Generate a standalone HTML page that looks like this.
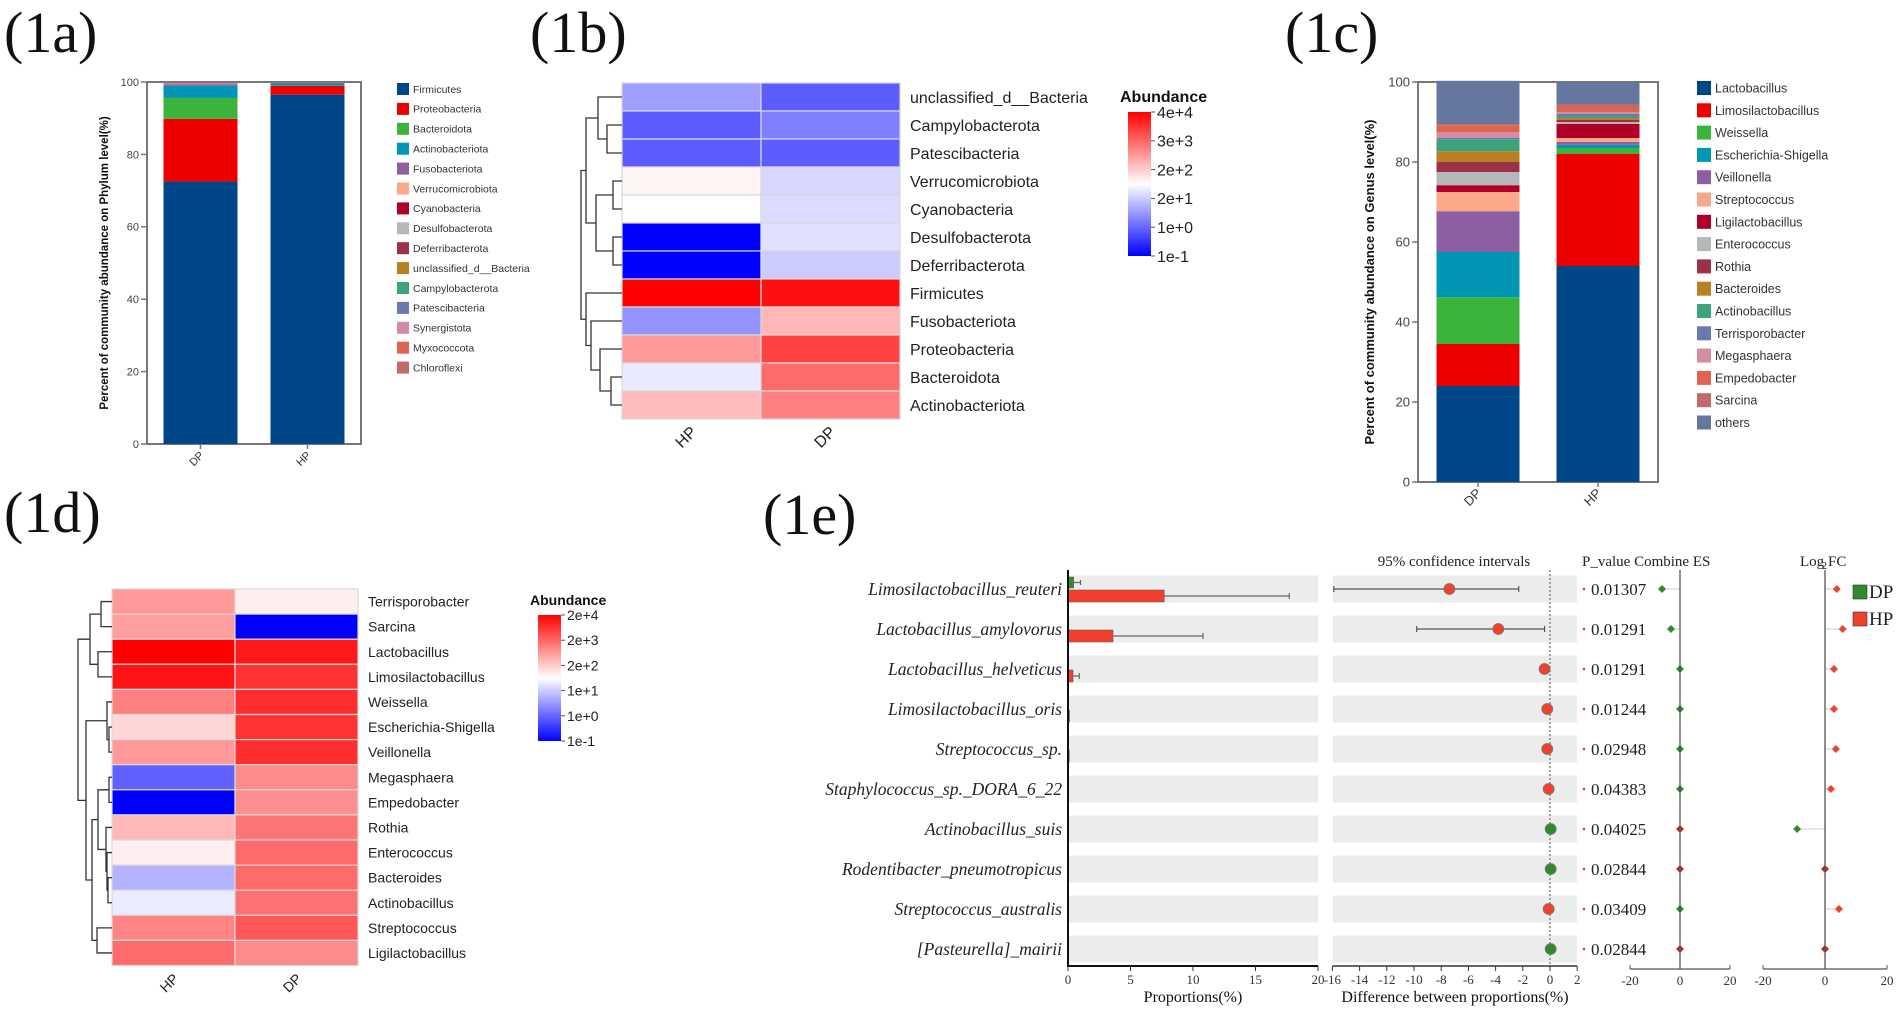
<!DOCTYPE html>
<html><head><meta charset="utf-8">
<style>
html,body{margin:0;padding:0;background:#fff;}
svg{display:block;}
.sans{font-family:"Liberation Sans",Arial,sans-serif;}
.serif{font-family:"Liberation Serif","Times New Roman",serif;}
</style></head>
<body>
<svg id="fig" width="1901" height="1012" viewBox="0 0 1901 1012" xmlns="http://www.w3.org/2000/svg">
<rect x="0" y="0" width="1901" height="1012" fill="#fff"/>
<text class="serif" x="4" y="52" font-size="58" fill="#111">(1a)</text>
<text class="serif" x="530" y="52" font-size="58" fill="#111">(1b)</text>
<text class="serif" x="1285" y="52" font-size="58" fill="#111">(1c)</text>
<text class="serif" x="4" y="532" font-size="58" fill="#111">(1d)</text>
<text class="serif" x="763" y="534" font-size="58" fill="#111">(1e)</text>
</svg>
<script>
// ---------- DATA ----------
const groups = ["DP","HP"];
const phylaNames = ["Firmicutes","Proteobacteria","Bacteroidota","Actinobacteriota","Fusobacteriota","Verrucomicrobiota","Cyanobacteria","Desulfobacterota","Deferribacterota","unclassified_d__Bacteria","Campylobacterota","Patescibacteria","Synergistota","Myxococcota","Chloroflexi"];
const phylaColors = ["#00478a","#ee0000","#3cb43c","#0096b4","#8e5ea2","#f9a98a","#b0002a","#b4b8b8","#9c3048","#b88020","#3aa37a","#6a7ab0","#d48ca0","#dc6450","#c06a6a"];
const dpPhylum = [72.5,17.3,5.8,3.4,0.4,0.1,0.1,0.1,0.05,0.05,0.05,0.05,0.05,0.03,0.02];
const hpPhylum = [96.5,2.4,0.1,0.6,0.2,0.05,0.05,0.02,0.02,0.02,0.01,0.01,0.01,0.01,0.01];

const genusNames = ["Lactobacillus","Limosilactobacillus","Weissella","Escherichia-Shigella","Veillonella","Streptococcus","Ligilactobacillus","Enterococcus","Rothia","Bacteroides","Actinobacillus","Terrisporobacter","Megasphaera","Empedobacter","Sarcina","others"];
const genusColors = ["#00478a","#ee0000","#3cb43c","#0096b4","#8e5ea2","#f9a98a","#b0002a","#b4b8b8","#9c3048","#b88020","#3aa37a","#6a7ab0","#d48ca0","#dc6450","#c06a6a","#66779f"];
const dpGenus = [24,10.5,11.7,11.3,10.2,4.8,1.7,3.3,2.5,2.7,3,0.3,1.5,1.7,0.3,10.8];
const hpGenus = [54,28,1.5,0.8,0.7,1,3.5,0.5,0.5,0.5,0.5,0.5,0.5,1,1,5.5];

const phylumRows = ["unclassified_d__Bacteria","Campylobacterota","Patescibacteria","Verrucomicrobiota","Cyanobacteria","Desulfobacterota","Deferribacterota","Firmicutes","Fusobacteriota","Proteobacteria","Bacteroidota","Actinobacteriota"];
const phylumHeatCols = ["HP","DP"];
const phylumLogHP = [0.72,-0.1,-0.1,1.9,1.8,-1,-1,4.6,0.58,2.89,1.6,2.48];
const phylumLogDP = [-0.1,0.33,-0.1,1.4,1.45,1.5,1.3,4.43,2.54,3.87,3.42,3.18];
const phylumTickLabels = ["1e-1","1e+0","2e+1","2e+2","3e+3","4e+4"];
const phylumTickLogs = [-1,0,1.301,2.301,3.477,4.602];

const genusRows = ["Terrisporobacter","Sarcina","Lactobacillus","Limosilactobacillus","Weissella","Escherichia-Shigella","Veillonella","Megasphaera","Empedobacter","Rothia","Enterococcus","Bacteroides","Actinobacillus","Streptococcus","Ligilactobacillus"];
const genusLogHP = [2.8,2.75,4.3,4.1,3.05,2.17,2.8,-0.05,-1,2.5,1.85,0.75,1.39,3.0,3.25];
const genusLogDP = [1.85,-1,4.05,3.8,3.85,3.8,3.85,2.95,2.9,3.15,3.25,3.25,3.2,3.45,2.95];
const genusTickLabels = ["1e-1","1e+0","1e+1","2e+2","2e+3","2e+4"];
const genusTickLogs = [-1,0,1,2.301,3.301,4.301];

const species = ["Limosilactobacillus_reuteri","Lactobacillus_amylovorus","Lactobacillus_helveticus","Limosilactobacillus_oris","Streptococcus_sp.","Staphylococcus_sp._DORA_6_22","Actinobacillus_suis","Rodentibacter_pneumotropicus","Streptococcus_australis","[Pasteurella]_mairii"];
const dpProp = [0.45,0.05,0.05,0.03,0.03,0.01,0.04,0.04,0.02,0.04];
const dpPropErr = [1.0,0.1,0.1,0.05,0.05,0.02,0.08,0.08,0.04,0.08];
const hpProp = [7.7,3.6,0.4,0.12,0.1,0.02,0.01,0.01,0.05,0.01];
const hpPropErr = [17.7,10.8,0.9,0.2,0.2,0.04,0.02,0.02,0.1,0.02];
const diffVal = [-7.4,-3.8,-0.4,-0.2,-0.2,-0.1,0.05,0.05,-0.1,0.05];
const diffLo = [-15.9,-9.8,-0.6,-0.3,-0.3,-0.2,0,0,-0.2,0];
const diffHi = [-2.3,-0.4,-0.2,-0.1,-0.1,0,0.1,0.1,0,0.1];
const pValues = ["0.01307","0.01291","0.01291","0.01244","0.02948","0.04383","0.04025","0.02844","0.03409","0.02844"];
const esVal = [-7.2,-3.6,0,0,0,0,0,0,0,0];
const esGroup = ["DP","DP","DP","DP","DP","DP","HP","HP","DP","HP"];
const log2fc = [3.8,5.7,2.9,2.9,3.5,1.9,-9,0,4.5,0];
const propTicks = [0,5,10,15,20];
const diffTicks = [-16,-14,-12,-10,-8,-6,-4,-2,0,2];
const esTicks = [-20,0,20];

// ---------- HELPERS ----------
const NS = "http://www.w3.org/2000/svg";
const svg = document.getElementById("fig");
function mk(tag, attrs, parent, txt){
  const el = document.createElementNS(NS, tag);
  for (const k in attrs) el.setAttribute(k, attrs[k]);
  if (txt !== undefined) el.textContent = txt;
  (parent || svg).appendChild(el);
  return el;
}
function grp(name){
  const g = mk("g", {});
  
  
  return g;
}
function heatColor(logv, tickLogs){
  let f;
  if (logv <= tickLogs[0]) f = 0;
  else if (logv >= tickLogs[tickLogs.length-1]) f = 1;
  else {
    for (let i=0;i<tickLogs.length-1;i++){
      if (logv>=tickLogs[i] && logv<=tickLogs[i+1]){
        f = (i + (logv-tickLogs[i])/(tickLogs[i+1]-tickLogs[i]))/(tickLogs.length-1); break;
      }
    }
  }
  let r,g,b;
  if (f < 0.5){ const t=f/0.5; r=Math.round(255*t); g=r; b=255; }
  else { const t=(f-0.5)/0.5; r=255; g=Math.round(255*(1-t)); b=g; }
  return "rgb("+r+","+g+","+b+")";
}

// ---------- STACKED BAR PANEL ----------
function stackedPanel(o){
  const g = grp(o.name);
  const yS = v => o.y0 - v*(o.y0-o.y100)/100;
  const band = (o.right-o.left)/groups.length;
  const fr = mk("rect",{x:o.left,y:o.y100,width:o.right-o.left,height:o.y0-o.y100,fill:"none",stroke:"#777","stroke-width":2},g);
  
  
  [o.dp,o.hp].forEach((vals,gi)=>{
    let acc=0;
    const bx = o.left + band*gi + (band-o.barW)/2;
    vals.forEach((v,i)=>{
      const r = mk("rect",{x:bx,y:yS(acc+v),width:o.barW,height:yS(acc)-yS(acc+v),fill:o.colors[i]},g);
      
      
      acc+=v;
    });
    const tk = mk("line",{x1:bx+o.barW/2,x2:bx+o.barW/2,y1:o.y0,y2:o.y0+5,stroke:"#777","stroke-width":1.5},g);
    
    
    const lb = mk("text",{x:bx+o.barW/2+4,y:o.y0+12,"font-size":o.fs,"text-anchor":"end",fill:"#333",class:"sans",transform:"rotate(-45 "+(bx+o.barW/2+4)+" "+(o.y0+12)+")"},g,groups[gi]);
    
    
  });
  for (let v=0; v<=100; v+=20){
    const t = mk("line",{x1:o.left-6,x2:o.left,y1:yS(v),y2:yS(v),stroke:"#777","stroke-width":1.5},g);
    
    
    const tl = mk("text",{x:o.left-8,y:yS(v)+o.fs*0.35,"font-size":o.fs,"text-anchor":"end",fill:"#444",class:"sans"},g,String(v));
    
    
  }
  const yt = mk("text",{x:o.titleX,y:(o.y0+o.y100)/2,"font-size":o.tfs,"font-weight":"bold","text-anchor":"middle",fill:"#111",class:"sans",transform:"rotate(-90 "+o.titleX+" "+((o.y0+o.y100)/2)+")"},g,o.title);
  
  
  o.names.forEach((n,i)=>{
    const ly = o.legY + i*o.legStep;
    const sq = mk("rect",{x:o.legX,y:ly-o.sq/2,width:o.sq,height:o.sq,fill:o.colors[i]},g);
    
    
    const lt = mk("text",{x:o.legX+o.sq+4,y:ly+o.lfs*0.36,"font-size":o.lfs,fill:"#333",class:"sans"},g,n);
    
    
  });
}
stackedPanel({name:"phylum-stacked-bar-chart",left:147,right:361,y0:444,y100:82,barW:74,dp:dpPhylum,hp:hpPhylum,names:phylaNames,colors:phylaColors,fs:11,tfs:11.5,title:"Percent of community abundance on Phylum level(%)",titleX:108,legX:397,legY:89,legStep:19.9,sq:12,lfs:10.5});
stackedPanel({name:"genus-stacked-bar-chart",left:1418,right:1658,y0:482,y100:82,barW:83,dp:dpGenus,hp:hpGenus,names:genusNames,colors:genusColors,fs:13,tfs:13,title:"Percent of community abundance on Genus level(%)",titleX:1374,legX:1697,legY:88,legStep:22.3,sq:14,lfs:12.5});

// ---------- HEATMAP PANEL ----------
function heatPanel(o){
  const g = grp(o.name);
  const cols=[o.hp,o.dp];
  o.rows.forEach((rn,i)=>{
    cols.forEach((arr,j)=>{
      const c = mk("rect",{x:o.x0+j*o.cw,y:o.y0+i*o.rh,width:o.cw,height:o.rh,fill:heatColor(arr[i],o.tickLogs),stroke:"#d8d8d8","stroke-width":1.2},g);
      
      
    });
    const t = mk("text",{x:o.x0+2*o.cw+10,y:o.y0+(i+0.5)*o.rh+o.fs*0.36,"font-size":o.fs,fill:"#222",class:"sans"},g,rn);
    
    
  });
  phylumHeatCols.forEach((cn,j)=>{
    const cx=o.x0+(j+0.5)*o.cw+6, cy=o.y0+o.rows.length*o.rh+14;
    const t = mk("text",{x:cx,y:cy,"font-size":o.fs,"text-anchor":"end",fill:"#222",class:"sans",transform:"rotate(-45 "+cx+" "+cy+")"},g,cn);
    
    
  });
  const rowY = i => o.y0+(i+0.5)*o.rh;
  function draw(node){
    if (typeof node==="number") return {y:rowY(node), x:o.x0};
    const a=draw(node[1]), b=draw(node[2]), x=node[0];
    const p = mk("path",{d:"M"+a.x+" "+a.y+"H"+x+"V"+b.y+"H"+b.x,fill:"none",stroke:"#333","stroke-width":1.3},g);
    
    
    return {y:(a.y+b.y)/2, x:x};
  }
  draw(o.tree);
  const defs = mk("defs",{},g);
  const lg = mk("linearGradient",{id:o.name+"-grad",x1:0,y1:1,x2:0,y2:0},defs);
  mk("stop",{offset:"0","stop-color":"#0000ff"},lg);
  mk("stop",{offset:"0.5","stop-color":"#ffffff"},lg);
  mk("stop",{offset:"1","stop-color":"#ff0000"},lg);
  const at = mk("text",{x:o.cbX-8,y:o.cbY-10,"font-size":o.fs,"font-weight":"bold",fill:"#111",class:"sans"},g,"Abundance");
  
  
  const cb = mk("rect",{x:o.cbX,y:o.cbY,width:o.cbW,height:o.cbH,fill:"url(#"+o.name+"-grad)"},g);
  
  
  o.tickLabels.forEach((tl,i)=>{
    const y = o.cbY+o.cbH - i*o.cbH/(o.tickLabels.length-1);
    const l = mk("line",{x1:o.cbX+o.cbW,x2:o.cbX+o.cbW+4,y1:y,y2:y,stroke:"#555"},g);
    
    
    const t = mk("text",{x:o.cbX+o.cbW+6,y:y+o.fs*0.36,"font-size":o.fs,fill:"#222",class:"sans"},g,tl);
    
    
  });
}
heatPanel({name:"phylum-heatmap",rows:phylumRows,hp:phylumLogHP,dp:phylumLogDP,tickLogs:phylumTickLogs,tickLabels:phylumTickLabels,x0:622,y0:83,cw:139,rh:28,fs:16,
  tree:[581,[586,[598,0,[607,1,2]],[596,[613,3,4],[613,5,6]]],[586,7,[591,8,[600,9,[611,10,11]]]]],
  cbX:1128,cbY:112,cbW:23,cbH:144});
heatPanel({name:"genus-heatmap",rows:genusRows,hp:genusLogHP,dp:genusLogDP,tickLogs:genusTickLogs,tickLabels:genusTickLabels,x0:112,y0:589,cw:123,rh:25.1,fs:14,
  tree:[78,[90,[101,0,1],[98,2,3]],[86,[107,4,[109,5,6]],[92,[98,[109,7,8],[106,9,[107,10,[108,11,12]]]],[97,13,14]]]],
  cbX:538,cbY:615,cbW:23,cbH:126});

// ---------- 1e EXTENDED ERROR BAR ----------
(function(){
  const g = grp("extended-error-bar-plot");
  const rowY = i => 589 + i*40;
  const pX = v => 1068 + v*12.5;
  const dX = v => 1550 + v*13.6;
  const eX = v => 1680 + v*2.5;
  const fX = v => 1825 + v*3.1;
  const red="#f0402f", green="#2e8b2e", darkred="#c0281e";
  species.forEach((s,i)=>{
    const y=rowY(i);
    const b1 = mk("rect",{x:1069,y:y-13.5,width:249,height:27,fill:"#ececec"},g);
    
    
    const b2 = mk("rect",{x:1333,y:y-13.5,width:244,height:27,fill:"#ececec"},g);
    
    
    const t = mk("text",{x:1062,y:y+6,"font-size":17.5,"font-style":"italic","text-anchor":"end",fill:"#222",class:"serif"},g,s);
    
    
    const db = mk("rect",{x:pX(0),y:y-12,width:pX(dpProp[i])-pX(0),height:11,fill:green,stroke:"#555","stroke-width":0.5},g);
    
    
    if (dpPropErr[i]>0.3){
      const e = mk("path",{d:"M"+pX(dpProp[i])+" "+(y-6.5)+"H"+pX(dpPropErr[i])+"M"+pX(dpPropErr[i])+" "+(y-9)+"V"+(y-4),stroke:"#666","stroke-width":1.2,fill:"none"},g);
      
      
    }
    const hb = mk("rect",{x:pX(0),y:y+1,width:pX(hpProp[i])-pX(0),height:12,fill:red,stroke:"#555","stroke-width":0.5},g);
    
    
    if (hpPropErr[i]>0.5){
      const e = mk("path",{d:"M"+pX(hpProp[i])+" "+(y+7)+"H"+pX(hpPropErr[i])+"M"+pX(hpPropErr[i])+" "+(y+4)+"V"+(y+10),stroke:"#666","stroke-width":1.2,fill:"none"},g);
      
      
    }
  });
  const zl = mk("line",{x1:dX(0),x2:dX(0),y1:570,y2:966,stroke:"#888","stroke-width":1.5,"stroke-dasharray":"2,2"},g);
  
  
  species.forEach((s,i)=>{
    const y=rowY(i);
    if (diffHi[i]-diffLo[i]>1){
      const ci = mk("path",{d:"M"+dX(diffLo[i])+" "+y+"H"+dX(diffHi[i])+"M"+dX(diffLo[i])+" "+(y-3)+"V"+(y+3)+"M"+dX(diffHi[i])+" "+(y-3)+"V"+(y+3),stroke:"#555","stroke-width":1.2,fill:"none"},g);
      
      
    }
    const c = mk("circle",{cx:dX(diffVal[i]),cy:y,r:5.5,fill:diffVal[i]<0?red:green,stroke:"#777","stroke-width":0.8},g);
    
    
    const dot = mk("circle",{cx:1584,cy:y,r:1.3,fill:"#e33"},g);
    
    
    const pv = mk("text",{x:1591,y:y+6,"font-size":17,fill:"#222",class:"serif"},g,pValues[i]);
    
    
    const ec = esGroup[i]==="DP"?green:darkred;
    if (Math.abs(esVal[i])>0.5){
      const el = mk("line",{x1:eX(esVal[i]),x2:eX(0),y1:y,y2:y,stroke:"#ccc"},g);
      
      
    }
    const ed = mk("path",{d:"M"+eX(esVal[i])+" "+(y-4)+"l4 4l-4 4l-4 -4z",fill:ec},g);
    
    
    const fc = log2fc[i]<0?green:(log2fc[i]===0?darkred:red);
    if (Math.abs(log2fc[i])>0.5){
      const fl = mk("line",{x1:fX(log2fc[i]),x2:fX(0),y1:y,y2:y,stroke:"#ccc"},g);
      
      
    }
    const fd = mk("path",{d:"M"+fX(log2fc[i])+" "+(y-4)+"l4 4l-4 4l-4 -4z",fill:fc},g);
    
    
  });
  const ax1 = mk("path",{d:"M1068 570V966H1318",stroke:"#111","stroke-width":2,fill:"none"},g);
  
  
  propTicks.forEach(v=>{
    const l=mk("line",{x1:pX(v),x2:pX(v),y1:966,y2:971,stroke:"#333"},g);
    
    
    const t=mk("text",{x:pX(v),y:984,"font-size":13,"text-anchor":"middle",fill:"#333",class:"serif"},g,String(v));
    
    
  });
  const ax2 = mk("line",{x1:dX(-16),x2:dX(2),y1:966,y2:966,stroke:"#333","stroke-width":1.5},g);
  
  
  diffTicks.forEach(v=>{
    const l=mk("line",{x1:dX(v),x2:dX(v),y1:966,y2:971,stroke:"#333"},g);
    
    
    const t=mk("text",{x:dX(v),y:984,"font-size":13,"text-anchor":"middle",fill:"#333",class:"serif"},g,String(v));
    
    
  });
  [[eX,"es"],[fX,"log2fc"]].forEach(([sc,nm])=>{
    const v = mk("line",{x1:sc(0),x2:sc(0),y1:570,y2:969,stroke:"#555","stroke-width":1.3},g);
    
    
    const a = mk("line",{x1:sc(-20),x2:sc(20),y1:969,y2:969,stroke:"#555","stroke-width":1.3},g);
    
    
    esTicks.forEach(tv=>{
      const l=mk("line",{x1:sc(tv),x2:sc(tv),y1:965,y2:969,stroke:"#555"},g);
      
      
      const t=mk("text",{x:sc(tv),y:985,"font-size":13,"text-anchor":"middle",fill:"#333",class:"serif"},g,String(tv));
      
      
    });
  });
  const t1=mk("text",{x:1193,y:1002,"font-size":16,"text-anchor":"middle",fill:"#111",class:"serif"},g,"Proportions(%)");
  
  
  const t2=mk("text",{x:1455,y:1002,"font-size":16,"text-anchor":"middle",fill:"#111",class:"serif"},g,"Difference between proportions(%)");
  
  
  const t3=mk("text",{x:1454,y:566,"font-size":15,"text-anchor":"middle",fill:"#222",class:"serif"},g,"95% confidence intervals");
  
  
  const t4=mk("text",{x:1582,y:566,"font-size":15,fill:"#222",class:"serif"},g,"P_value Combine ES");
  
  
  const t5=mk("text",{x:1800,y:566,"font-size":15,fill:"#222",class:"serif"},g,"Log");
  
  
  const t5b=mk("text",{x:1822,y:569,"font-size":10,fill:"#222",class:"serif"},g,"2");
  
  
  const t5c=mk("text",{x:1828,y:566,"font-size":15,fill:"#222",class:"serif"},g,"FC");
  
  
  [["DP",green,585],["HP",red,612]].forEach(([n,c,y])=>{
    const r=mk("rect",{x:1853,y:y,width:14,height:14,fill:c,stroke:"#333","stroke-width":0.6},g);
    
    
    const t=mk("text",{x:1869,y:y+13,"font-size":19,fill:"#222",class:"serif"},g,n);
    
    
  });
})();
</script>
</body></html>
